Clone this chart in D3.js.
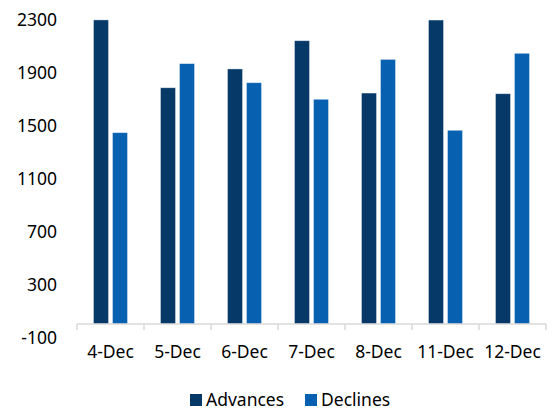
<!DOCTYPE html>
<html>
<head>
<meta charset="utf-8">
<script src="https://cdn.jsdelivr.net/npm/d3@7"></script>
<style>
  body { margin: 0; background: #fff; }
  text { font-family: "Noto Sans", "Open Sans", sans-serif; fill: #000; }
</style>
</head>
<body>
<div id="chart"></div>
<script>
'use strict';

var categories = ["4-Dec", "5-Dec", "6-Dec", "7-Dec", "8-Dec", "11-Dec", "12-Dec"];
var seriesNames = ["Advances", "Declines"];
var advances = [2295, 1783, 1925, 2138, 1743, 2294, 1738];
var declines = [1444, 1965, 1821, 1696, 1997, 1462, 2043];
var yTicks = [-100, 300, 700, 1100, 1500, 1900, 2300];

var WIDTH = 552,
    HEIGHT = 411,
    COLORS = { Advances: "#073968", Declines: "#0760b0" },
    FONT_SIZE = 17.5;

var svg = d3.select("#chart").append("svg")
    .attr("width", WIDTH)
    .attr("height", HEIGHT);

var x = d3.scaleBand()
    .domain(categories)
    .range([77, 546])
    .padding(0);

var bw = x.bandwidth();
var x1 = d3.scaleBand()
    .domain(seriesNames)
    .range([bw / 2 - 17, bw / 2 + 17])
    .paddingInner(4 / 19)
    .paddingOuter(0);

var y = d3.scaleLinear()
    .domain([-100, 2300])
    .range([337.25, 19.25]);

var rows = categories.map(function (c, i) {
    return { cat: c, values: [
        { key: "Advances", value: advances[i] },
        { key: "Declines", value: declines[i] }
    ] };
});

// bars
var groups = svg.append("g").selectAll("g")
    .data(rows)
    .enter().append("g")
    .attr("transform", function (d) { return "translate(" + x(d.cat) + ",0)"; });

groups.selectAll("rect")
    .data(function (d) { return d.values; })
    .enter().append("rect")
    .attr("x", function (d) { return x1(d.key); })
    .attr("width", x1.bandwidth())
    .attr("y", function (d) { return y(Math.max(0, d.value)); })
    .attr("height", function (d) { return Math.abs(y(d.value) - y(0)); })
    .attr("fill", function (d) { return COLORS[d.key]; })
    .attr("stroke", "rgba(255,255,255,0.5)")
    .attr("stroke-width", 0.75);

// category axis at zero
var xAxis = svg.append("g")
    .attr("transform", "translate(0," + y(0) + ")");

xAxis.append("line")
    .attr("x1", 77).attr("x2", 546)
    .attr("y1", 0).attr("y2", 0)
    .attr("stroke", "#d9d9d9")
    .attr("stroke-width", 1.5);

var bounds = categories.map(function (c) { return x(c); }).concat([546]);
xAxis.selectAll("line.tick")
    .data(bounds)
    .enter().append("line")
    .attr("class", "tick")
    .attr("x1", function (d) { return d; })
    .attr("x2", function (d) { return d; })
    .attr("y1", 0).attr("y2", 6)
    .attr("stroke", "#d9d9d9")
    .attr("stroke-width", 1.5);

xAxis.selectAll("text")
    .data(categories)
    .enter().append("text")
    .attr("x", function (d) { return x(d) + bw / 2; })
    .attr("y", 34)
    .attr("text-anchor", "middle")
    .style("font-size", FONT_SIZE + "px")
    .text(function (d) { return d; });

// value labels
svg.append("g").selectAll("text")
    .data(yTicks)
    .enter().append("text")
    .attr("x", 57)
    .attr("y", function (d) { return y(d); })
    .attr("dy", "0.36em")
    .attr("text-anchor", "end")
    .style("font-size", FONT_SIZE + "px")
    .text(function (d) { return d; });

// legend
var legendX = [190, 305];
var legend = svg.append("g").selectAll("g")
    .data(seriesNames)
    .enter().append("g")
    .attr("transform", function (d, i) { return "translate(" + legendX[i] + ",394)"; });

legend.append("rect")
    .attr("width", 12)
    .attr("height", 12)
    .attr("fill", function (d) { return COLORS[d]; });

legend.append("text")
    .attr("x", 16)
    .attr("y", 11.5)
    .style("font-size", FONT_SIZE + "px")
    .text(function (d) { return d; });
</script>
</body>
</html>
